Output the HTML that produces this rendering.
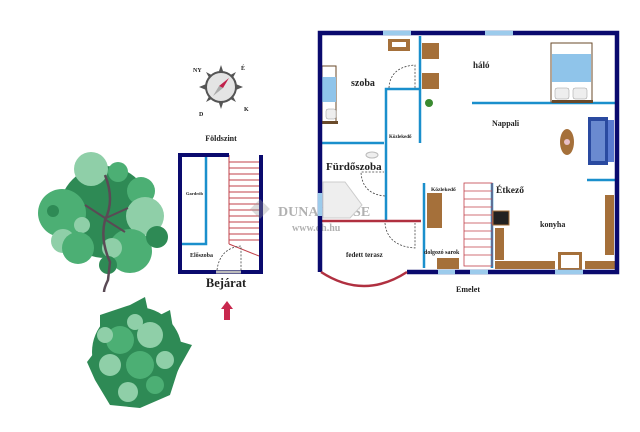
<!DOCTYPE html>
<html><head><meta charset="utf-8"><style>
body{margin:0;background:#fff}
svg{display:block}
text{font-family:"Liberation Serif",serif;font-weight:bold;fill:#222}
</style></head><body>
<svg width="640" height="432" viewBox="0 0 640 432" xmlns="http://www.w3.org/2000/svg">
<rect width="640" height="432" fill="#fff"/>
<!-- big tree -->
<g>
<circle cx="105" cy="212" r="46" fill="#2e8a55"/>
<circle cx="91" cy="169" r="17" fill="#8fcfa8"/>
<circle cx="118" cy="172" r="10" fill="#4caf74"/>
<circle cx="62" cy="213" r="24" fill="#4caf74"/>
<circle cx="53" cy="211" r="6" fill="#2e8a55"/>
<circle cx="82" cy="225" r="8" fill="#8fcfa8"/>
<circle cx="63" cy="241" r="12" fill="#8fcfa8"/>
<circle cx="78" cy="248" r="16" fill="#4caf74"/>
<circle cx="141" cy="191" r="14" fill="#4caf74"/>
<circle cx="145" cy="216" r="19" fill="#8fcfa8"/>
<circle cx="130" cy="251" r="22" fill="#4caf74"/>
<circle cx="112" cy="248" r="10" fill="#8fcfa8"/>
<circle cx="157" cy="237" r="11" fill="#2e8a55"/>
<circle cx="108" cy="265" r="9" fill="#2e8a55"/>
<path d="M105 175 Q115 200 105 220 Q100 240 110 262 L108 280 Q104 288 104 292" stroke="#5a4a55" stroke-width="2.5" fill="none"/>
<path d="M105 218 L85 205 M106 218 L128 208 M106 220 L125 232" stroke="#5a4a55" stroke-width="2" fill="none"/>
</g>
<!-- bush -->
<g>
<circle cx="137" cy="352" r="45" fill="#2e8a55"/>
<polygon points="100,315 130,305 145,297 150,320 170,310 175,340 192,345 178,370 170,395 140,408 110,405 95,380 87,362 100,345" fill="#2e8a55"/>
<circle cx="120" cy="340" r="14" fill="#4caf74"/>
<circle cx="150" cy="335" r="13" fill="#8fcfa8"/>
<circle cx="110" cy="365" r="11" fill="#8fcfa8"/>
<circle cx="140" cy="365" r="14" fill="#4caf74"/>
<circle cx="165" cy="360" r="9" fill="#8fcfa8"/>
<circle cx="128" cy="392" r="10" fill="#8fcfa8"/>
<circle cx="155" cy="385" r="9" fill="#4caf74"/>
<circle cx="105" cy="335" r="8" fill="#8fcfa8"/>
<circle cx="135" cy="322" r="8" fill="#8fcfa8"/>
</g>
<!-- compass -->
<g>
<polygon points="221,65 226,80 243,87 226,94 221,109 216,94 199,87 216,80" fill="#555"/>
<polygon points="206,72 221,80 236,72 228,87 236,102 221,94 206,102 214,87" fill="#555"/>
<circle cx="221" cy="87" r="15" fill="#e4e4e4" stroke="#555" stroke-width="2"/>
<polygon points="229,78 223,88 219,86" fill="#c0204a"/>
<polygon points="213,96 219,86 223,88" fill="#aaa"/>
<text x="193" y="72" font-size="6" fill="#555">NY</text>
<text x="241" y="70" font-size="6" fill="#555">É</text>
<text x="244" y="111" font-size="6" fill="#555">K</text>
<text x="199" y="116" font-size="6" fill="#555">D</text>
</g>
<text x="221" y="141" font-size="8" text-anchor="middle">Földszint</text>
<!-- small plan -->
<g>
<path d="M206 153 V244 H182" stroke="#1a8fcc" stroke-width="2.5" fill="none"/>
<g stroke="#c0404a" stroke-width="1">
<line x1="229" y1="155" x2="229" y2="244"/>
<line x1="229" y1="244" x2="259" y2="256"/>
<line x1="229" y1="162" x2="259" y2="162"/><line x1="229" y1="168" x2="259" y2="168"/>
<line x1="229" y1="174" x2="259" y2="174"/><line x1="229" y1="180" x2="259" y2="180"/>
<line x1="229" y1="186" x2="259" y2="186"/><line x1="229" y1="192" x2="259" y2="192"/>
<line x1="229" y1="198" x2="259" y2="198"/><line x1="229" y1="204" x2="259" y2="204"/>
<line x1="229" y1="210" x2="259" y2="210"/><line x1="229" y1="216" x2="259" y2="216"/>
<line x1="229" y1="222" x2="259" y2="222"/><line x1="229" y1="228" x2="259" y2="228"/>
<line x1="229" y1="234" x2="259" y2="234"/><line x1="229" y1="240" x2="259" y2="240"/>
</g>
<path d="M229 155 H180 V272 H261 V155" stroke="#0a0a6e" stroke-width="4" fill="none"/>
<line x1="216" y1="272" x2="241" y2="272" stroke="#bbb" stroke-width="3"/>
<path d="M217 270 Q220 248 241 246 L241 270" stroke="#444" stroke-width="0.8" stroke-dasharray="2,1.5" fill="none"/>
<text x="186" y="195" font-size="4.5">Gardrób</text>
<text x="190" y="257" font-size="6">Előszoba</text>
<text x="226" y="287" font-size="12.5" text-anchor="middle">Bejárat</text>
<polygon points="227,301 233,309 230,309 230,320 224,320 224,309 221,309" fill="#c8284e"/>
</g>
<!-- watermark -->
<g opacity="0.35">
<rect x="253" y="202" width="14" height="14" transform="rotate(45 260 209)" fill="#999"/>
<text x="278" y="216" font-size="14" fill="#aaa" font-weight="normal">DUNA HOUSE</text>
<text x="292" y="231" font-size="10" fill="#aaa" font-weight="normal">www.dh.hu</text>
</g>
<!-- main plan -->
<g>
<!-- interior walls -->
<g stroke="#1a8fcc" stroke-width="2.5" fill="none">
<path d="M420 36 V143"/>
<path d="M420 89 H386 V221"/>
<path d="M321 143 H384"/>
<path d="M472 103 H616"/>
<path d="M587 180 H616"/>
<path d="M424 183 V268"/>
<path d="M492 183 V268"/>
</g>
<line x1="321" y1="221" x2="421" y2="221" stroke="#b03040" stroke-width="2.5"/>
<!-- stairs -->
<g stroke="#c0404a" stroke-width="0.8" fill="none">
<rect x="464" y="183" width="28" height="83"/>
<line x1="464" y1="191" x2="492" y2="191"/><line x1="464" y1="199" x2="492" y2="199"/>
<line x1="464" y1="207" x2="492" y2="207"/><line x1="464" y1="215" x2="492" y2="215"/>
<line x1="464" y1="223" x2="492" y2="223"/><line x1="464" y1="231" x2="492" y2="231"/>
<line x1="464" y1="239" x2="492" y2="239"/><line x1="464" y1="247" x2="492" y2="247"/>
<line x1="464" y1="255" x2="492" y2="255"/>
</g>
<!-- doors -->
<g stroke="#444" stroke-width="0.8" stroke-dasharray="2,1.5" fill="none">
<path d="M389 88 Q390 67 415 65 V88"/>
<path d="M385 196 Q362 194 361 172 L384 172"/>
<path d="M385 223 Q387 246 415 248 V223"/>
</g>
<!-- furniture -->
<g fill="#a5703a">
<rect x="422" y="43" width="17" height="16"/>
<rect x="422" y="73" width="17" height="16"/>
<rect x="388" y="39" width="22" height="12"/>
<rect x="427" y="193" width="15" height="35"/>
<rect x="495" y="228" width="9" height="32"/>
<rect x="495" y="261" width="60" height="8"/>
<rect x="585" y="261" width="30" height="8"/>
<rect x="605" y="195" width="9" height="60"/>
<rect x="437" y="258" width="22" height="11"/>
<ellipse cx="567" cy="142" rx="7" ry="13"/>
<rect x="558" y="252" width="24" height="18"/>
</g>
<rect x="561" y="255" width="18" height="13" fill="#fff"/>
<rect x="392" y="42" width="14" height="5" fill="#fff"/>
<circle cx="567" cy="142" r="3" fill="#e8c0c8"/>
<circle cx="429" cy="103" r="4" fill="#3a8a30"/>
<rect x="493" y="211" width="16" height="14" fill="#222" stroke="#a5703a" stroke-width="1"/>
<!-- beds -->
<rect x="551" y="43" width="41" height="59" fill="#fff" stroke="#6a4a2a" stroke-width="1"/>
<rect x="552" y="54" width="39" height="28" fill="#8fc4ea"/>
<rect x="552" y="100" width="41" height="3" fill="#6a4a2a"/>
<rect x="555" y="88" width="14" height="11" rx="2" fill="#eee" stroke="#999" stroke-width="0.5"/>
<rect x="573" y="88" width="14" height="11" rx="2" fill="#eee" stroke="#999" stroke-width="0.5"/>
<rect x="322" y="66" width="14" height="56" fill="#fff" stroke="#6a4a2a" stroke-width="1"/>
<rect x="322" y="77" width="14" height="25" fill="#8fc4ea"/>
<rect x="321" y="121" width="17" height="3" fill="#6a4a2a"/>
<rect x="326" y="109" width="10" height="10" rx="2" fill="#eee" stroke="#999" stroke-width="0.5"/>
<!-- sofa -->
<rect x="588" y="117" width="20" height="48" fill="#2a4aa0"/>
<rect x="591" y="121" width="14" height="40" fill="#6a8ad0"/>
<rect x="608" y="120" width="6" height="42" fill="#5a7ad0"/>
<!-- bath -->
<polygon points="323,182 345,182 362,205 350,218 323,218" fill="#eee" stroke="#ccc"/>
<ellipse cx="372" cy="155" rx="6" ry="3" fill="#eee" stroke="#bbb"/>
<!-- outer walls -->
<path d="M320 272 V33 H617 V272 H407" stroke="#0a0a6e" stroke-width="4.5" fill="none"/>
<g stroke="#9ccbec" stroke-width="4.5">
<line x1="383" y1="33" x2="411" y2="33"/>
<line x1="485" y1="33" x2="513" y2="33"/>
<line x1="320" y1="193" x2="320" y2="216"/>
<line x1="438" y1="272" x2="455" y2="272"/>
<line x1="470" y1="272" x2="488" y2="272"/>
<line x1="555" y1="272" x2="583" y2="272"/>
</g>
<path d="M321 272 Q364 300 407 272" stroke="#b03040" stroke-width="2.5" fill="none"/>
<!-- labels -->
<text x="351" y="86" font-size="10">szoba</text>
<text x="473" y="68" font-size="9">háló</text>
<text x="389" y="138" font-size="5">Közlekedő</text>
<text x="492" y="126" font-size="8">Nappali</text>
<text x="326" y="170" font-size="11">Fürdőszoba</text>
<text x="431" y="191" font-size="5.5">Közlekedő</text>
<text x="496" y="193" font-size="9.5">Étkező</text>
<text x="540" y="227" font-size="8">konyha</text>
<text x="346" y="257" font-size="7">fedett terasz</text>
<text x="424" y="254" font-size="6">dolgozó sarok</text>
<text x="456" y="292" font-size="8">Emelet</text>
</g>
</svg>
</body></html>
